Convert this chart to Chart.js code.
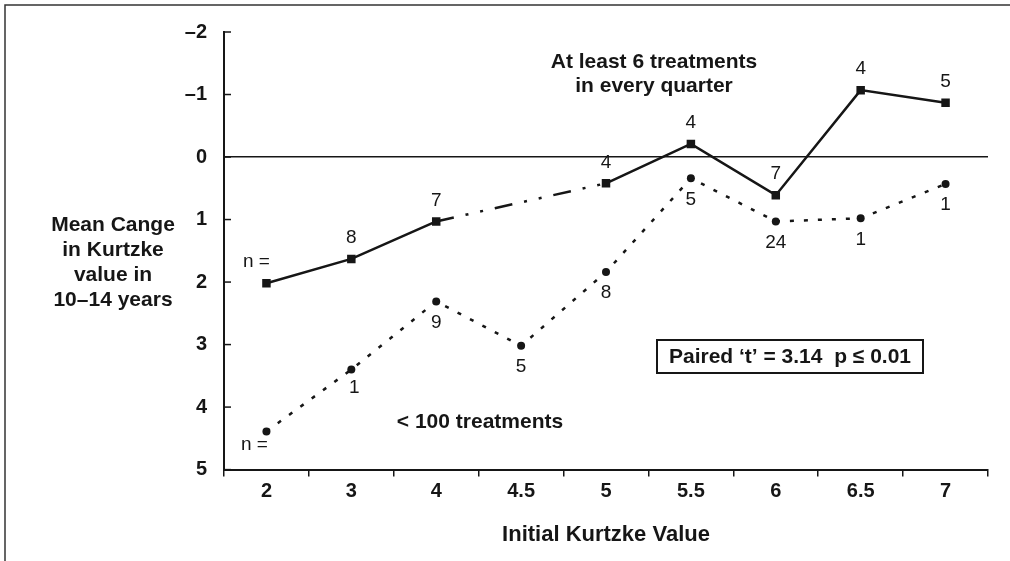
<!DOCTYPE html>
<html>
<head>
<meta charset="utf-8">
<script src="https://cdn.jsdelivr.net/npm/chart.js@4.4.1/dist/chart.umd.min.js"></script>
<style>
    html, body { margin: 0; padding: 0; background: #fff; }
    #wrap { position: relative; width: 1010px; height: 561px; }
</style>
</head>
<body>
<div id="wrap"><canvas id="kurtzkeChart"></canvas></div>
<script>
// Initial Kurtzke value (categories)
const kurtzkeLabels = ['2', '3', '4', '4.5', '5', '5.5', '6', '6.5', '7'];

// Mean change, at least 6 treatments in every quarter (no point at 4.5)
const regularValues = [2.02, 1.63, 1.03, null, 0.42, -0.21, 0.61, -1.07, -0.87];
const regularCounts = ['n =', '8', '7', null, '4', '4', '7', '4', '5'];

// Mean change, < 100 treatments
const fewValues = [4.39, 3.40, 2.31, 3.02, 1.84, 0.34, 1.03, 0.98, 0.43];
const fewCounts = ['n =', '1', '9', '5', '8', '5', '24', '1', '1'];

// Y axis range (reversed)
const yMin = -2;
const yMax = 5;

const yTitleLines = ['Mean Cange', 'in Kurtzke', 'value in', '10\u201314 years'];

const ink = '#161616';
const boldFont = '"Liberation Sans", Arial, sans-serif';

// Plugin: frame, inward y ticks, y title, n labels and notes
const extrasPlugin = {
    id: 'extras',
    afterDraw: (chart) => {
        const ctx = chart.ctx;
        const x = chart.scales.x;
        const y = chart.scales.y;
        const area = chart.chartArea;

        ctx.save();

        // Frame (top and left edge only)
        ctx.strokeStyle = '#333';
        ctx.lineWidth = 1.5;
        ctx.beginPath();
        ctx.moveTo(1010, 5);
        ctx.lineTo(5, 5);
        ctx.lineTo(5, 561);
        ctx.stroke();

        // Inward ticks on the y axis
        ctx.strokeStyle = ink;
        ctx.lineWidth = 1.5;
        y.ticks.forEach(t => {
            const py = y.getPixelForValue(t.value);
            ctx.beginPath();
            ctx.moveTo(area.left, py);
            ctx.lineTo(area.left + 7, py);
            ctx.stroke();
        });

        // Horizontal y title
        ctx.fillStyle = ink;
        ctx.font = 'bold 21px ' + boldFont;
        ctx.textAlign = 'center';
        ctx.textBaseline = 'middle';
        yTitleLines.forEach((line, i) => {
            ctx.fillText(line, 113, 225 + i * 25);
        });

        // n labels
        ctx.font = '19px ' + boldFont;
        regularCounts.forEach((lab, i) => {
            if (lab === null || regularValues[i] === null) return;
            const px = x.getPixelForValue(i);
            const py = y.getPixelForValue(regularValues[i]);
            if (lab === 'n =') ctx.fillText(lab, px - 10, py - 22);
            else ctx.fillText(lab, px, py - 21);
        });
        fewCounts.forEach((lab, i) => {
            if (lab === null) return;
            const px = x.getPixelForValue(i);
            const py = y.getPixelForValue(fewValues[i]);
            if (lab === 'n =') ctx.fillText(lab, px - 12, py + 13);
            else if (i === 1) ctx.fillText(lab, px + 3, py + 18);
            else ctx.fillText(lab, px, py + 21);
        });

        // Notes
        ctx.font = 'bold 21px ' + boldFont;
        ctx.fillText('At least 6 treatments', 654, 62);
        ctx.fillText('in every quarter', 654, 86);
        ctx.fillText('< 100 treatments', 480, 422);

        ctx.lineWidth = 2;
        ctx.strokeRect(657, 340, 266, 33);
        ctx.fillText('Paired \u2018t\u2019 = 3.14  p \u2264 0.01', 790, 357);

        ctx.restore();
    }
};

const createKurtzkeChart = () => {
    const ctx = document.getElementById('kurtzkeChart').getContext('2d');

    new Chart(ctx, {
        type: 'line',
        data: {
            labels: kurtzkeLabels,
            datasets: [
                {
                    label: 'At least 6 treatments in every quarter',
                    data: regularValues,
                    spanGaps: true,
                    borderColor: ink,
                    backgroundColor: ink,
                    borderWidth: 2.5,
                    pointStyle: 'rect',
                    pointRadius: 6,
                    pointBorderWidth: 0,
                    tension: 0,
                    segment: {
                        // dash-dot across the missing 4.5 value
                        borderDash: c => regularValues[c.p0DataIndex] === null ? [18, 12, 3, 12, 3, 12] : undefined
                    }
                },
                {
                    label: '< 100 treatments',
                    data: fewValues,
                    borderColor: ink,
                    backgroundColor: ink,
                    borderWidth: 2.5,
                    borderDash: [4, 10],
                    pointStyle: 'circle',
                    pointRadius: 4,
                    pointBorderWidth: 0,
                    tension: 0
                }
            ]
        },
        options: {
            responsive: true,
            maintainAspectRatio: false,
            animation: false,
            layout: {
                padding: { top: 32, right: 22, left: 0, bottom: 0 }
            },
            plugins: {
                legend: { display: false },
                tooltip: { enabled: false }
            },
            scales: {
                x: {
                    type: 'category',
                    offset: true,
                    grid: {
                        display: true,
                        drawOnChartArea: false,
                        drawTicks: true,
                        tickLength: 7,
                        offset: true,
                        color: ink,
                        lineWidth: 1.5
                    },
                    border: { color: ink, width: 2 },
                    ticks: {
                        color: ink,
                        padding: 3,
                        font: { family: boldFont, size: 20, weight: 'bold' }
                    },
                    title: {
                        display: true,
                        text: 'Initial Kurtzke Value',
                        color: ink,
                        font: { family: boldFont, size: 22, weight: 'bold' },
                        padding: { top: 15, bottom: 13 }
                    }
                },
                y: {
                    reverse: true,
                    min: yMin,
                    max: yMax,
                    afterFit: s => { s.width = 224; },
                    grid: {
                        drawTicks: false,
                        color: c => c.tick && c.tick.value === 0 ? ink : 'rgba(0,0,0,0)',
                        lineWidth: 1.5
                    },
                    border: { color: ink, width: 2 },
                    ticks: {
                        stepSize: 1,
                        color: ink,
                        padding: 17,
                        font: { family: boldFont, size: 20, weight: 'bold' },
                        callback: v => v < 0 ? '\u2013' + Math.abs(v) : String(v)
                    }
                }
            }
        },
        plugins: [extrasPlugin]
    });
}

createKurtzkeChart();
</script>
</body>
</html>
